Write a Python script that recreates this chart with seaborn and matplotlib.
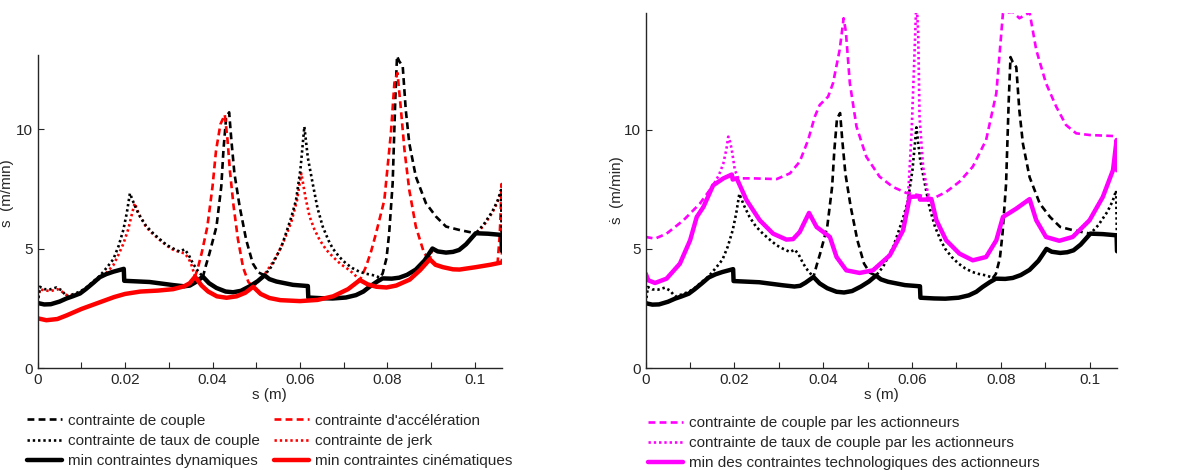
import matplotlib
matplotlib.use("Agg")
import matplotlib.pyplot as plt
from matplotlib.lines import Line2D
from matplotlib.ticker import MultipleLocator, FuncFormatter
import seaborn as sns

# ── Left panel: dynamic constraints (black) ───────────────────────────────
dyn_min_s = [0, 0.0015, 0.003, 0.005, 0.0066, 0.008, 0.0097, 0.011, 0.0127, 0.0142,
             0.0157, 0.0173, 0.0197, 0.0198, 0.0256, 0.031, 0.0335, 0.0348, 0.036, 0.0378,
             0.0392, 0.0409, 0.043, 0.0447, 0.0465, 0.0485, 0.0503, 0.0519, 0.053, 0.0546,
             0.0584, 0.0618, 0.0619, 0.065, 0.0675, 0.0705, 0.0728, 0.0745, 0.0759, 0.0775,
             0.0789, 0.081, 0.0827, 0.0845, 0.0865, 0.0885, 0.0903, 0.0915, 0.0934, 0.095,
             0.0964, 0.098, 0.1002, 0.103, 0.1061, 0.1062]
dyn_min_v = [2.72, 2.66, 2.67, 2.78, 2.91, 3.0, 3.12, 3.3, 3.56, 3.8,
             3.93, 4.03, 4.15, 3.65, 3.6, 3.47, 3.42, 3.45, 3.58, 3.82,
             3.55, 3.35, 3.2, 3.17, 3.23, 3.42, 3.63, 3.88, 3.72, 3.62,
             3.48, 3.43, 2.95, 2.92, 2.91, 2.95, 3.05, 3.2, 3.4, 3.6,
             3.75, 3.74, 3.78, 3.9, 4.12, 4.5, 5.0, 4.88, 4.83, 4.86,
             4.94, 5.18, 5.64, 5.62, 5.57, 4.9]

couple_s = [0, 0.0015, 0.003, 0.005, 0.0066, 0.008, 0.0097, 0.011, 0.0127, 0.0142,
            0.0157, 0.0173, 0.0197, 0.0198, 0.0256, 0.031, 0.0335, 0.0348, 0.036, 0.0378,
            0.0385, 0.0393, 0.0409, 0.042, 0.0425, 0.0431, 0.0438, 0.0443, 0.045, 0.0462,
            0.0477, 0.0492, 0.0505, 0.0519, 0.053, 0.0546, 0.0584, 0.0618, 0.0619, 0.065,
            0.0675, 0.0705, 0.0728, 0.0745, 0.0759, 0.0775, 0.0789, 0.0798, 0.0804, 0.0812,
            0.0818, 0.0822, 0.0827, 0.0835, 0.0842, 0.085, 0.0865, 0.0888, 0.0911, 0.0934,
            0.0964, 0.0985, 0.1002, 0.103, 0.1061, 0.1062]
couple_v = [2.72, 2.66, 2.67, 2.78, 2.91, 3.0, 3.12, 3.3, 3.56, 3.8,
            3.93, 4.03, 4.15, 3.65, 3.6, 3.47, 3.42, 3.45, 3.58, 3.82,
            4.3, 4.8, 5.92, 7.6, 9.13, 10.46, 10.7, 9.55, 8.15, 6.76,
            5.36, 4.38, 4.0, 3.88, 3.72, 3.62, 3.48, 3.43, 2.95, 2.92,
            2.91, 2.95, 3.05, 3.2, 3.4, 3.6, 3.95, 4.6, 5.64, 7.73,
            11.23, 13.05, 12.84, 12.63, 10.8, 9.41, 8.01, 6.9, 6.34, 5.92,
            5.78, 5.7, 5.64, 5.62, 5.57, 4.9]

taux_s = [0, 0.0005, 0.0015, 0.0028, 0.0043, 0.0055, 0.0066, 0.008, 0.0097, 0.011,
          0.0127, 0.0142, 0.0158, 0.0173, 0.0185, 0.0196, 0.0204, 0.0211, 0.0222, 0.0234,
          0.0248, 0.0264, 0.028, 0.0295, 0.031, 0.0325, 0.0336, 0.0345, 0.0355, 0.0365,
          0.0378, 0.0392, 0.0409, 0.043, 0.0447, 0.0465, 0.0485, 0.0503, 0.0519, 0.0535,
          0.0546, 0.0558, 0.0568, 0.058, 0.0591, 0.0601, 0.061, 0.0618, 0.0629, 0.064,
          0.0652, 0.0665, 0.0675, 0.069, 0.0705, 0.072, 0.0736, 0.075, 0.0766, 0.0789,
          0.081, 0.0827, 0.0845, 0.0865, 0.0885, 0.0903, 0.0915, 0.0934, 0.095, 0.0964,
          0.098, 0.1002, 0.102, 0.104, 0.1052, 0.106, 0.1062]
taux_v = [2.72, 3.4, 3.3, 3.29, 3.37, 3.25, 3.0, 3.08, 3.2, 3.35,
          3.62, 3.85, 4.2, 4.55, 5.1, 5.78, 6.5, 7.31, 6.8, 6.34,
          5.95, 5.64, 5.38, 5.15, 5.0, 4.87, 4.97, 4.75, 4.38, 4.1,
          3.82, 3.55, 3.35, 3.2, 3.17, 3.23, 3.42, 3.63, 3.88, 4.25,
          4.66, 5.1, 5.64, 6.3, 7.03, 8.3, 10.1, 8.8, 7.73, 6.7,
          5.92, 5.35, 5.0, 4.65, 4.38, 4.18, 4.03, 3.95, 3.89, 3.75,
          3.74, 3.78, 3.9, 4.12, 4.5, 5.0, 4.88, 4.83, 4.86, 4.94,
          5.18, 5.64, 6.0, 6.55, 7.0, 7.45, 5.2]

# ── Left panel: kinematic constraints (red) ───────────────────────────────
kin_min_s = [0, 0.002, 0.0045, 0.0066, 0.01, 0.0142, 0.0175, 0.02, 0.0235, 0.0275,
             0.031, 0.0335, 0.0348, 0.036, 0.0375, 0.039, 0.041, 0.0432, 0.0455, 0.0475,
             0.0493, 0.051, 0.053, 0.0555, 0.06, 0.064, 0.0676, 0.071, 0.0737, 0.0755,
             0.0775, 0.0798, 0.082, 0.0851, 0.0875, 0.0897, 0.091, 0.0927, 0.095, 0.0965,
             0.1002, 0.1035, 0.1062]
kin_min_v = [2.08, 2.0, 2.05, 2.2, 2.47, 2.75, 2.97, 3.1, 3.2, 3.24,
             3.3, 3.42, 3.55, 3.82, 3.45, 3.2, 3.0, 2.94, 3.0, 3.15,
             3.4, 3.1, 2.93, 2.84, 2.8, 2.85, 3.0, 3.3, 3.68, 3.5,
             3.4, 3.37, 3.45, 3.7, 4.1, 4.55, 4.32, 4.22, 4.13, 4.12,
             4.22, 4.32, 4.42]

accel_s = [0, 0.002, 0.0045, 0.0066, 0.01, 0.0142, 0.0175, 0.02, 0.0235, 0.0275,
           0.031, 0.0335, 0.0348, 0.036, 0.0368, 0.0375, 0.0388, 0.04, 0.0408, 0.0418,
           0.0428, 0.0434, 0.044, 0.0448, 0.0458, 0.047, 0.0482, 0.0493, 0.051, 0.053,
           0.0555, 0.06, 0.064, 0.0676, 0.071, 0.0737, 0.0751, 0.0763, 0.0774, 0.0793,
           0.0808, 0.0816, 0.0823, 0.0831, 0.0839, 0.085, 0.0865, 0.0884, 0.0897, 0.091,
           0.0927, 0.095, 0.0965, 0.1002, 0.1035, 0.1052, 0.1057, 0.106, 0.1061, 0.1062]
accel_v = [2.08, 2.0, 2.05, 2.2, 2.47, 2.75, 2.97, 3.1, 3.2, 3.24,
           3.3, 3.42, 3.55, 3.82, 4.3, 4.8, 5.9, 7.6, 9.1, 10.2,
           10.6, 9.6, 8.2, 6.8, 5.4, 4.2, 3.6, 3.4, 3.1, 2.93,
           2.84, 2.8, 2.85, 3.0, 3.3, 3.68, 4.24, 4.9, 5.64, 7.03,
           9.83, 11.93, 12.35, 10.8, 9.13, 7.45, 5.92, 4.8, 4.55, 4.32,
           4.22, 4.13, 4.12, 4.22, 4.32, 4.38, 5.6, 7.0, 7.7, 4.42]

jerk_s = [0, 0.0005, 0.0015, 0.003, 0.0045, 0.0055, 0.0066, 0.008, 0.0097, 0.011,
          0.0127, 0.0142, 0.0158, 0.0173, 0.0185, 0.0196, 0.0207, 0.0215, 0.0222, 0.023,
          0.0248, 0.0264, 0.028, 0.0295, 0.031, 0.0325, 0.0336, 0.0345, 0.0352, 0.036,
          0.0375, 0.039, 0.041, 0.0432, 0.0455, 0.0475, 0.0493, 0.0505, 0.052, 0.0535,
          0.055, 0.0565, 0.058, 0.0593, 0.0603, 0.0613, 0.0622, 0.0633, 0.0645, 0.066,
          0.0675, 0.0693, 0.0713, 0.0725, 0.0737, 0.0755, 0.0775, 0.0798, 0.082, 0.0851,
          0.0875, 0.0897, 0.0903, 0.0915, 0.0934, 0.095, 0.0964, 0.098, 0.1002, 0.102,
          0.104, 0.1052, 0.106, 0.1062]
jerk_v = [2.7, 3.3, 3.25, 3.22, 3.3, 3.2, 3.05, 3.05, 3.15, 3.3,
          3.55, 3.75, 4.0, 4.3, 4.75, 5.2, 5.8, 6.4, 6.9, 6.5,
          5.9, 5.6, 5.35, 5.12, 4.95, 4.85, 4.8, 4.6, 4.3, 3.82,
          3.45, 3.2, 3.0, 2.94, 3.0, 3.15, 3.4, 3.65, 3.95, 4.35,
          4.8, 5.4, 6.1, 7.0, 8.15, 7.1, 6.34, 5.8, 5.36, 4.95,
          4.66, 4.35, 4.1, 3.9, 3.68, 3.5, 3.4, 3.37, 3.45, 3.7,
          4.1, 4.55, 5.0, 4.88, 4.83, 4.86, 4.94, 5.18, 5.6, 5.95,
          6.5, 6.95, 7.35, 5.0]

# ── Right panel: actuator constraints (magenta) ───────────────────────────
act_couple_s = [0, 0.0021, 0.0047, 0.0085, 0.0122, 0.0152, 0.0182, 0.0205, 0.0242, 0.0295,
                0.0325, 0.0347, 0.0366, 0.0381, 0.0392, 0.0411, 0.0422, 0.0437, 0.0446, 0.0451,
                0.046, 0.0475, 0.0497, 0.0527, 0.0557, 0.0587, 0.0617, 0.0647, 0.0677, 0.0707,
                0.0737, 0.0767, 0.079, 0.0805, 0.0827, 0.0842, 0.0865, 0.088, 0.0902, 0.0925,
                0.0947, 0.097, 0.1, 0.1062]
act_couple_v = [5.5, 5.43, 5.64, 6.2, 6.9, 7.67, 8.03, 7.96, 7.96, 7.93,
                8.17, 8.66, 9.57, 10.55, 11.04, 11.39, 11.95, 13.35, 14.68, 14.12,
                11.95, 10.13, 8.87, 8.03, 7.6, 7.35, 7.25, 7.11, 7.39, 7.82,
                8.45, 9.57, 11.53, 14.9, 14.95, 14.68, 14.92, 13.35, 11.95, 10.97,
                10.2, 9.85, 9.78, 9.73]

act_taux1_s = [0.0135, 0.0152, 0.0165, 0.0175, 0.0182, 0.0186, 0.019, 0.0194, 0.0201, 0.021]
act_taux1_v = [6.95, 7.67, 8.1, 8.59, 9.2, 9.71, 9.5, 9.15, 8.3, 7.9]
act_taux2_s = [0.058, 0.059, 0.0599, 0.0606, 0.061, 0.0614, 0.0617, 0.0625, 0.0636, 0.0644, 0.0652]
act_taux2_v = [5.78, 6.8, 9.85, 13.35, 15.5, 14.05, 10.55, 8.45, 7.32, 7.0, 6.4]

act_min_s = [0, 0.0006, 0.0021, 0.0047, 0.0077, 0.01, 0.0115, 0.013, 0.0152, 0.0175,
             0.0194, 0.0196, 0.0205, 0.0227, 0.0257, 0.0287, 0.0317, 0.0332, 0.0347, 0.0368,
             0.0385, 0.0415, 0.043, 0.0452, 0.0482, 0.0512, 0.055, 0.058, 0.0595, 0.0617,
             0.0618, 0.0644, 0.0655, 0.0677, 0.0707, 0.0737, 0.0767, 0.079, 0.0805, 0.0835,
             0.0865, 0.088, 0.0902, 0.0932, 0.0962, 0.1, 0.103, 0.1053, 0.1061, 0.1062]
act_min_v = [3.96, 3.68, 3.57, 3.75, 4.38, 5.36, 6.34, 6.76, 7.67, 7.96,
             8.12, 7.91, 7.96, 7.05, 6.2, 5.64, 5.39, 5.41, 5.71, 6.51,
             5.92, 5.5, 4.66, 4.1, 3.99, 4.1, 4.73, 5.78, 7.18, 7.21,
             7.07, 7.07, 6.2, 5.36, 4.8, 4.52, 4.66, 5.36, 6.34, 6.69,
             7.09, 6.2, 5.5, 5.34, 5.5, 6.2, 7.18, 8.31, 9.57, 8.3]

BLACK, RED, MAGENTA = "black", "#ff0000", "#ff00ff"
DASH = (0, (2.6, 1.6))
DOT = (0, (0.9, 1.1))
LW_THIN, LW_THICK = 1.9, 3.2

sns.set_style("ticks")
plt.rcParams["font.family"] = ["Liberation Sans", "DejaVu Sans"]
plt.rcParams["font.size"] = 11


def draw(ax, s, v, color, ls, lw):
    sns.lineplot(x=s, y=v, ax=ax, color=color, linestyle=ls, linewidth=lw,
                 sort=False, estimator=None, legend=False)


def style_axes(ax, ytop, ylab_x, ylab_y):
    ax.set_xlim(0, 0.1062)
    ax.set_ylim(0, ytop)
    ax.xaxis.set_major_locator(MultipleLocator(0.02))
    ax.xaxis.set_minor_locator(MultipleLocator(0.01))
    ax.xaxis.set_major_formatter(FuncFormatter(lambda v, p: f"{v:g}"))
    ax.set_yticks([0, 5, 10])
    ax.tick_params(which="both", direction="in", length=4, width=0.8,
                   labelsize=11, colors="#262626")
    sns.despine(ax=ax)
    for side in ("left", "bottom"):
        ax.spines[side].set_linewidth(1.0)
        ax.spines[side].set_color("#262626")
    ax.set_xlabel("s (m)", fontsize=11, labelpad=1)
    ax.set_ylabel("ṡ  (m/min)", fontsize=11)
    ax.yaxis.set_label_coords(ylab_x, ylab_y)


fig = plt.figure(figsize=(11.92, 4.70), dpi=100)
ax1 = fig.add_axes([0.0316, 0.217, 0.3895, 0.666])
ax2 = fig.add_axes([0.5417, 0.217, 0.3954, 0.7553])

# left panel
draw(ax1, couple_s, couple_v, BLACK, DASH, LW_THIN)
draw(ax1, accel_s, accel_v, RED, DASH, LW_THIN)
draw(ax1, jerk_s, jerk_v, RED, DOT, LW_THIN)
draw(ax1, taux_s, taux_v, BLACK, DOT, LW_THIN)
draw(ax1, dyn_min_s, dyn_min_v, BLACK, "-", LW_THICK)
draw(ax1, kin_min_s, kin_min_v, RED, "-", LW_THICK)
style_axes(ax1, 13.1, -0.05, 0.56)

# right panel
draw(ax2, act_couple_s, act_couple_v, MAGENTA, DASH, LW_THIN)
draw(ax2, couple_s, couple_v, BLACK, DASH, LW_THIN)
draw(ax2, taux_s, taux_v, BLACK, DOT, LW_THIN)
draw(ax2, act_taux1_s, act_taux1_v, MAGENTA, DOT, LW_THIN)
draw(ax2, act_taux2_s, act_taux2_v, MAGENTA, DOT, LW_THIN)
draw(ax2, dyn_min_s, dyn_min_v, BLACK, "-", LW_THICK)
draw(ax2, act_min_s, act_min_v, MAGENTA, "-", LW_THICK)
style_axes(ax2, 14.9, -0.045, 0.5)

# legends
def handle(color, ls, lw):
    return Line2D([], [], color=color, linestyle=ls, linewidth=lw)

left_handles = [handle(BLACK, DASH, LW_THIN), handle(BLACK, DOT, LW_THIN), handle(BLACK, "-", LW_THICK),
                handle(RED, DASH, LW_THIN), handle(RED, DOT, LW_THIN), handle(RED, "-", LW_THICK)]
left_labels = ["contrainte de couple", "contrainte de taux de couple", "min contraintes dynamiques",
               "contrainte d'accélération", "contrainte de jerk", "min contraintes cinématiques"]
leg_kw = dict(loc="upper left", frameon=False, fontsize=11, handlelength=2.3,
              handletextpad=0.4, columnspacing=0.9, labelspacing=0.4,
              borderpad=0, borderaxespad=0)
fig.legend(left_handles, left_labels, ncol=2, bbox_to_anchor=(0.0227, 0.1195), **leg_kw)

right_handles = [handle(MAGENTA, DASH, LW_THIN), handle(MAGENTA, DOT, LW_THIN), handle(MAGENTA, "-", LW_THICK)]
right_labels = ["contrainte de couple par les actionneurs",
                "contrainte de taux de couple par les actionneurs",
                "min des contraintes technologiques des actionneurs"]
fig.legend(right_handles, right_labels, ncol=1, bbox_to_anchor=(0.5436, 0.1145), **leg_kw)

fig.savefig("out.png", dpi=100)
